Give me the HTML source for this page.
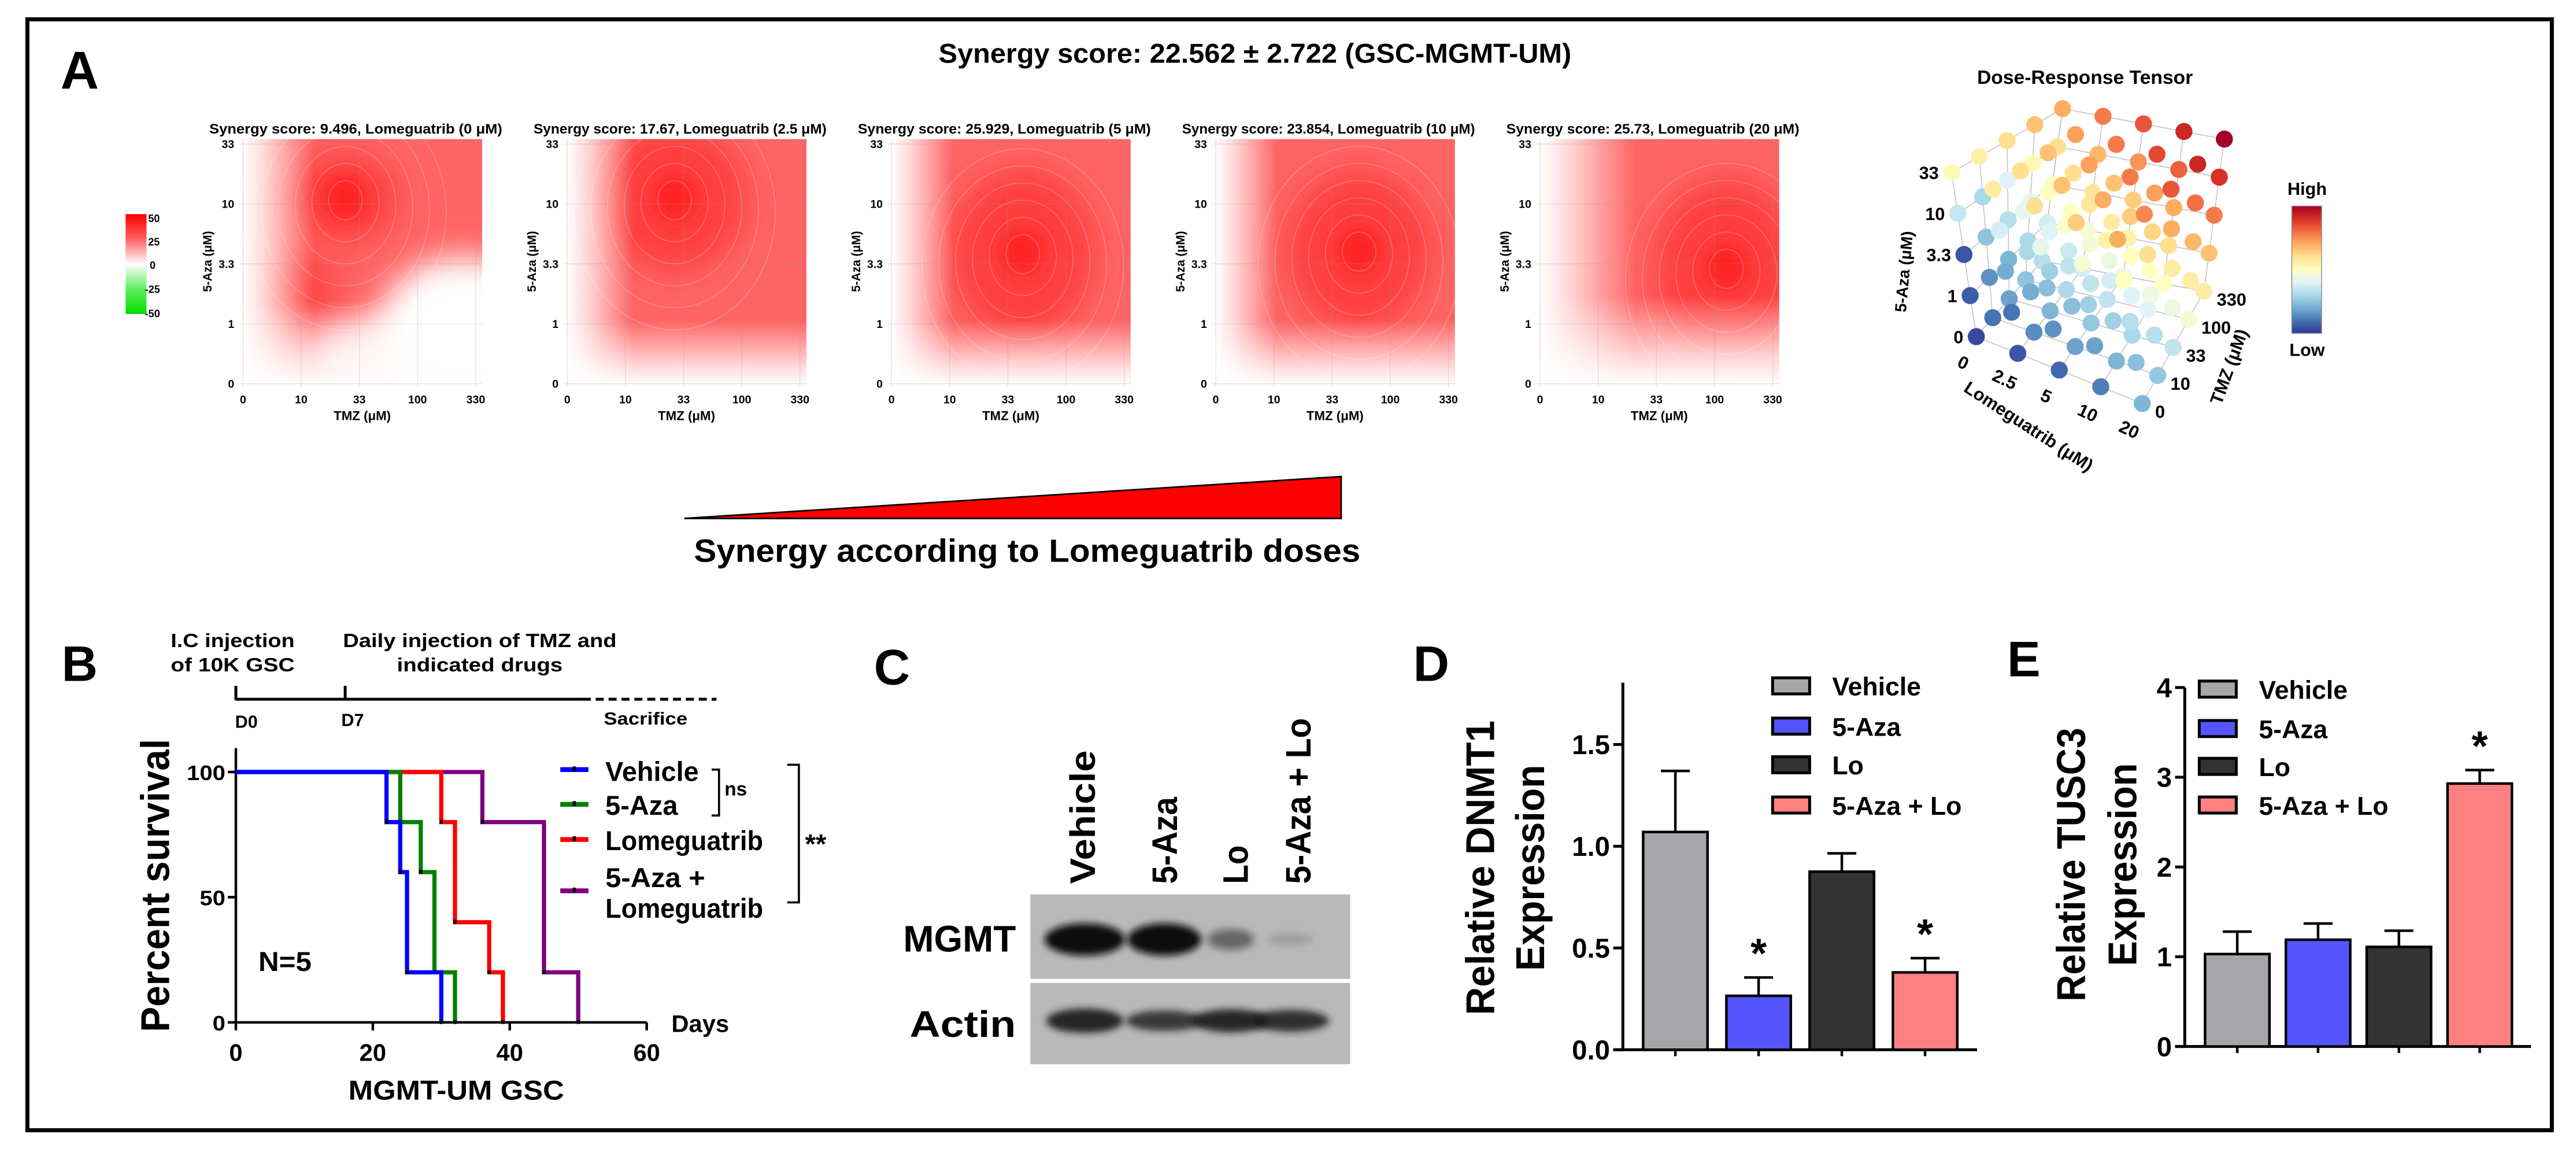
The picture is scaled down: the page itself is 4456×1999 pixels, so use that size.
<!DOCTYPE html>
<html><head><meta charset="utf-8"><style>
html,body{margin:0;padding:0;background:#fff;}
svg{display:block;}
text{font-family:"Liberation Sans",Arial,sans-serif;font-weight:bold;fill:#000;}
</style></head><body>
<svg id="fig" width="4456" height="1999" viewBox="0 0 1600 718" preserveAspectRatio="none" xmlns="http://www.w3.org/2000/svg">
<defs>
<filter id="blur9" x="-50%" y="-50%" width="200%" height="200%"><feGaussianBlur stdDeviation="10"/></filter>
<filter id="blur5" x="-50%" y="-50%" width="200%" height="200%"><feGaussianBlur stdDeviation="5"/></filter>
<filter id="blotblur" x="-50%" y="-50%" width="200%" height="200%"><feGaussianBlur stdDeviation="2.2"/></filter>
<linearGradient id="fadeL" x1="0" x2="1" y1="0" y2="0"><stop offset="0" stop-color="#fff" stop-opacity="1"/><stop offset="0.3" stop-color="#fff" stop-opacity="0.75"/><stop offset="1" stop-color="#fff" stop-opacity="0"/></linearGradient>
<linearGradient id="fadeB" x1="0" x2="0" y1="0" y2="1"><stop offset="0" stop-color="#fff" stop-opacity="0"/><stop offset="0.7" stop-color="#fff" stop-opacity="0.75"/><stop offset="1" stop-color="#fff" stop-opacity="1"/></linearGradient>
<linearGradient id="synbar" x1="0" x2="0" y1="0" y2="1"><stop offset="0" stop-color="#ff0000"/><stop offset="0.25" stop-color="#ff6060"/><stop offset="0.5" stop-color="#ffffff"/><stop offset="0.75" stop-color="#60ee60"/><stop offset="1" stop-color="#00dd00"/></linearGradient>
<linearGradient id="rdylbu" x1="0" x2="0" y1="0" y2="1"><stop offset="0" stop-color="#a50026"/><stop offset="0.1" stop-color="#d73027"/><stop offset="0.2" stop-color="#f46d43"/><stop offset="0.3" stop-color="#fdae61"/><stop offset="0.4" stop-color="#fee090"/><stop offset="0.5" stop-color="#ffffbf"/><stop offset="0.6" stop-color="#e0f3f8"/><stop offset="0.7" stop-color="#abd9e9"/><stop offset="0.8" stop-color="#74add1"/><stop offset="0.9" stop-color="#4575b4"/><stop offset="1" stop-color="#313695"/></linearGradient>
</defs>

<rect x="17" y="12" width="1568" height="690" fill="none" stroke="#000" stroke-width="2.5"/>

<text x="49.5" y="55" font-size="33" text-anchor="middle">A</text>
<text x="583" y="39" font-size="17" textLength="393" lengthAdjust="spacingAndGlyphs">Synergy score: 22.562 ± 2.722 (GSC-MGMT-UM)</text>
<g id="heatmaps"></g>
<g>
<rect x="78" y="133" width="13" height="62" fill="url(#synbar)"/>
<text x="92" y="138" font-size="6.5" font-weight="normal">50</text>
<text x="92" y="152.5" font-size="6.5" font-weight="normal">25</text>
<text x="93" y="167" font-size="6.5" font-weight="normal">0</text>
<text x="90" y="182" font-size="6.5" font-weight="normal">-25</text>
<text x="90" y="197" font-size="6.5" font-weight="normal">-50</text>
</g>
<polygon points="425,322 833,322 833,296" fill="#ff0000" stroke="#000" stroke-width="1"/>
<text x="431" y="349" font-size="20" textLength="414" lengthAdjust="spacingAndGlyphs">Synergy according to Lomeguatrib doses</text>

<g id="tensor"></g>
<text x="1295" y="52" font-size="12" text-anchor="middle" textLength="134" lengthAdjust="spacingAndGlyphs">Dose-Response Tensor</text>
<rect x="1423.5" y="128" width="18.5" height="79" fill="url(#rdylbu)" stroke="#888" stroke-width="0.5"/>
<text x="1433" y="121" font-size="11" text-anchor="middle" font-weight="normal">High</text>
<text x="1433" y="221" font-size="11" text-anchor="middle" font-weight="normal">Low</text>

<text x="49.5" y="423" font-size="31" text-anchor="middle">B</text>
<g>
<text x="106" y="402" font-size="12" textLength="77" lengthAdjust="spacingAndGlyphs">I.C injection</text>
<text x="106" y="417" font-size="12" textLength="77" lengthAdjust="spacingAndGlyphs">of 10K GSC</text>
<text x="298" y="402" font-size="12" text-anchor="middle" textLength="170" lengthAdjust="spacingAndGlyphs">Daily injection of TMZ and</text>
<text x="298" y="417" font-size="12" text-anchor="middle" textLength="103" lengthAdjust="spacingAndGlyphs">indicated drugs</text>
<line x1="146.5" y1="434.3" x2="362" y2="434.3" stroke="#000" stroke-width="1.8"/>
<line x1="362" y1="434.3" x2="445" y2="434.3" stroke="#000" stroke-width="1.8" stroke-dasharray="5,3"/>
<line x1="146.5" y1="426" x2="146.5" y2="435" stroke="#000" stroke-width="1.8"/>
<line x1="214.4" y1="426" x2="214.4" y2="435" stroke="#000" stroke-width="1.8"/>
<text x="146" y="452" font-size="11">D0</text>
<text x="212" y="451" font-size="11">D7</text>
<text x="375" y="450" font-size="11" textLength="52" lengthAdjust="spacingAndGlyphs">Sacrifice</text>
</g>
<g id="survival"></g>
<text transform="translate(105,550) rotate(-90)" font-size="25" text-anchor="middle" textLength="182" lengthAdjust="spacingAndGlyphs">Percent survival</text>
<text x="283.4" y="683" font-size="17" text-anchor="middle" textLength="134" lengthAdjust="spacingAndGlyphs">MGMT-UM GSC</text>
<text x="417" y="641" font-size="15">Days</text>
<text x="177" y="603" font-size="17" text-anchor="middle" textLength="33" lengthAdjust="spacingAndGlyphs">N=5</text>
<g>
<polyline points="442,478 446.6,478 446.6,506.5 442,506.5" fill="none" stroke="#000" stroke-width="1.3"/>
<text x="450" y="494" font-size="12">ns</text>
<polyline points="489,475 496.2,475 496.2,560.5 489,560.5" fill="none" stroke="#000" stroke-width="1.3"/>
<text x="500" y="530" font-size="17">**</text>
</g>

<text x="554" y="425" font-size="31" text-anchor="middle">C</text>
<g id="blot"></g>
<text x="631" y="591" font-size="23" text-anchor="end" textLength="70" lengthAdjust="spacingAndGlyphs">MGMT</text>
<text x="631" y="644" font-size="23" text-anchor="end" textLength="66" lengthAdjust="spacingAndGlyphs">Actin</text>

<text x="889" y="423" font-size="31" text-anchor="middle">D</text>
<text x="1257" y="420" font-size="31" text-anchor="middle">E</text>
<g id="barD"></g>
<g id="barE"></g>
<text transform="translate(928,539) rotate(-90)" font-size="25" text-anchor="middle" textLength="183" lengthAdjust="spacingAndGlyphs">Relative DNMT1</text>
<text transform="translate(959,539) rotate(-90)" font-size="25" text-anchor="middle" textLength="128" lengthAdjust="spacingAndGlyphs">Expression</text>
<text transform="translate(1295,537) rotate(-90)" font-size="25" text-anchor="middle" textLength="170" lengthAdjust="spacingAndGlyphs">Relative TUSC3</text>
<text transform="translate(1327,537) rotate(-90)" font-size="25" text-anchor="middle" textLength="126" lengthAdjust="spacingAndGlyphs">Expression</text>
</svg>
<script>
const NS='http://www.w3.org/2000/svg';
function mk(parent,tag,attrs){const e=document.createElementNS(NS,tag);for(const k in attrs)e.setAttribute(k,attrs[k]);parent.appendChild(e);return e;}
function tx(parent,x,y,s,size,anchor,extra){const e=mk(parent,'text',Object.assign({x:x,y:y,'font-size':size,'text-anchor':anchor||'start'},extra||{}));e.textContent=s;return e;}

/* ---------- Panel A heatmaps ---------- */
const hmLomeDoses=['0','2.5','5','10','20'];
const hmScores=['9.496','17.67','25.929','23.854','25.73'];
const hmTmzTicks=['0','10','33','100','330'];
const hmAzaTicks=['0','1','3.3','10','33'];
const hmPeakX=[0.43,0.45,0.55,0.6,0.78];
const hmPeakY=[0.24,0.24,0.46,0.45,0.52];
const hmPeakRX=[0.22,0.3,0.3,0.3,0.3];
const hmPeakRY=[0.18,0.3,0.34,0.32,0.36];
const hmLeftFade=[0.3,0.28,0.26,0.26,0.4];
const hmBottomFade=[0.34,0.26,0.26,0.26,0.36];
const hmLeft0=150.5, hmPitch=201.4, hmW=149, hmTop=86.4, hmH=152;
const hmG=document.getElementById('heatmaps');
for(let p=0;p<5;p++){
  const L=hmLeft0+p*hmPitch;
  const xs=i=>L+hmW*(0.003+0.2425*i);
  const g=mk(hmG,'g',{});
  
  
  const cp=mk(g,'clipPath',{id:'hmclip'+p});
  mk(cp,'rect',{x:L,y:hmTop,width:hmW,height:hmH});
  const body=mk(g,'g',{'clip-path':'url(#hmclip'+p+')'});
  const base=mk(body,'rect',{x:L,y:hmTop,width:hmW,height:hmH,fill:'#ff6464'});
  
  
  const cx=L+hmW*hmPeakX[p], cy=hmTop+hmH*hmPeakY[p];
  if(p===0){
    const lobe=mk(body,'ellipse',{cx:L+hmW*0.25,cy:hmTop+hmH*0.65,rx:hmW*0.14,ry:hmH*0.2,fill:'#ff4545',filter:'url(#blur9)'});
    
    
    const cold=mk(body,'ellipse',{cx:L+hmW*0.92,cy:hmTop+hmH*0.78,rx:hmW*0.36,ry:hmH*0.3,fill:'#fff',filter:'url(#blur9)'});
    
    
    const cold2=mk(body,'ellipse',{cx:L+hmW*0.55,cy:hmTop+hmH*0.88,rx:hmW*0.25,ry:hmH*0.14,fill:'#fff',opacity:0.8,filter:'url(#blur9)'});
    
    
  }
  const hot=mk(body,'ellipse',{cx:cx,cy:cy,rx:hmW*hmPeakRX[p],ry:hmH*hmPeakRY[p],fill:'#ff3c3c',filter:'url(#blur9)'});
  
  
  const core=mk(body,'ellipse',{cx:cx,cy:cy,rx:hmW*0.09,ry:hmH*0.09,fill:'#ff2020',filter:'url(#blur5)'});
  
  
  for(let c=1;c<=6;c++){
    const ce=mk(body,'ellipse',{cx:cx,cy:cy+c*1.5,rx:hmW*0.07*c,ry:hmH*0.08*c,fill:'none',stroke:'#fff','stroke-opacity':0.22,'stroke-width':0.6});
    
    
  }
  const fl=mk(body,'rect',{x:L,y:hmTop,width:hmW*hmLeftFade[p],height:hmH,fill:'url(#fadeL)'});
  
  
  const fb=mk(body,'rect',{x:L,y:hmTop+hmH*(1-hmBottomFade[p]),width:hmW,height:hmH*hmBottomFade[p]+1,fill:'url(#fadeB)'});
  
  
  for(let i=0;i<5;i++){
    const gx=mk(g,'line',{x1:xs(i),x2:xs(i),y1:hmTop,y2:hmTop+hmH+2,stroke:'#999','stroke-opacity':0.25,'stroke-width':0.5});
    
    
    const yy=hmTop+3+(hmH-3)*(1-i/4);
    const gy=mk(g,'line',{x1:L-2,x2:L+hmW,y1:yy,y2:yy,stroke:'#999','stroke-opacity':0.25,'stroke-width':0.5});
    
    
    const xt=tx(g,xs(i),250.5,hmTmzTicks[i],7,'middle',{'font-weight':'normal'});
    
    
    const yt=tx(g,L-5,yy+2.5,hmAzaTicks[i],7,'end',{'font-weight':'normal'});
    
    
  }
  const tt=tx(g,L+hmW/2-4,83,'Synergy score: '+hmScores[p]+', Lomeguatrib ('+hmLomeDoses[p]+' μM)',8.5,'middle',{textLength:182,lengthAdjust:'spacingAndGlyphs'});
  
  
  const xl=tx(g,L+hmW/2,261,'TMZ (μM)',8,'middle');
  
  
  const yl=tx(g,0,0,'5-Aza (μM)',7.5,'middle',{transform:'translate('+(L-19)+','+(hmTop+hmH*0.5)+') rotate(-90)'});
  
  
}

/* ---------- 3D tensor ---------- */
const tLomeLabels=['0','2.5','5','10','20'];
const tTmzLabels=['0','10','33','100','330'];
const tAzaLabels=['0','1','3.3','10','33'];
const tResp0=[[.03,.10,.18,.25,.32],[.06,.15,.22,.30,.38],[.05,.25,.32,.42,.50],[.35,.30,.40,.52,.60],[.52,.55,.60,.66,.70]];
const tResp1=[[.05,.14,.22,.30,.38],[.10,.20,.28,.36,.46],[.20,.30,.40,.50,.58],[.38,.42,.50,.60,.68],[.56,.60,.66,.72,.78]];
const tResp2=[[.08,.18,.26,.34,.44],[.15,.24,.34,.44,.54],[.24,.34,.46,.56,.64],[.42,.48,.58,.66,.74],[.60,.66,.72,.78,.84]];
const tResp3=[[.12,.22,.30,.40,.50],[.18,.28,.40,.50,.60],[.28,.38,.50,.62,.70],[.46,.54,.64,.72,.82],[.64,.70,.78,.86,.92]];
const tResp4=[[.22,.26,.34,.46,.56],[.24,.32,.44,.56,.66],[.32,.44,.56,.68,.78],[.50,.60,.70,.80,.90],[.70,.76,.84,.92,1.0]];
const tResp=[tResp0,tResp1,tResp2,tResp3,tResp4];
const cmapStops=['#313695','#4575b4','#74add1','#abd9e9','#e0f3f8','#ffffbf','#fee090','#fdae61','#f46d43','#d73027','#a50026'];
function hex(h){return [parseInt(h.substr(1,2),16),parseInt(h.substr(3,2),16),parseInt(h.substr(5,2),16)];}
function cmap(v){v=Math.max(0,Math.min(1,v));const f=v*10,i=Math.min(9,Math.floor(f)),t=f-i;const a=hex(cmapStops[i]),b=hex(cmapStops[i+1]);return 'rgb('+a.map((x,k)=>Math.round(x+(b[k]-x)*t)).join(',')+')';}
const C={'000':[1227.5,209.1],'100':[1330.6,250.6],'001':[1212.2,107.1],'101':[1315.3,148.6],'010':[1268.4,162.0],'110':[1368.9,180.9],'011':[1281.1,67.5],'111':[1381.6,86.4]};
function proj(i,j,k){const u=i/4,v=j/4,w=k/4;let x=0,y=0;
  for(const a of [0,1])for(const b of [0,1])for(const c of [0,1]){const wt=(a?u:1-u)*(b?v:1-v)*(c?w:1-w);const p=C[''+a+b+c];x+=wt*p[0];y+=wt*p[1];}
  return [x,y];}
const TG=document.getElementById('tensor');
function gl(i1,j1,k1,i2,j2,k2){const a=proj(i1,j1,k1),b=proj(i2,j2,k2);const l=mk(TG,'line',{x1:a[0],y1:a[1],x2:b[0],y2:b[1],stroke:'#bbb','stroke-width':0.5});
  
  }
for(let n=0;n<5;n++){
  gl(n,0,0,n,4,0); gl(0,n,0,4,n,0);
  gl(n,4,0,n,4,4); gl(0,4,n,4,4,n);
  gl(0,n,0,0,n,4); gl(0,0,n,0,4,n);
}
const pts=[];
for(let i=0;i<5;i++)for(let j=0;j<5;j++)for(let k=0;k<5;k++)pts.push([i,j,k]);
pts.sort((a,b)=>(b[1]-a[1])||(a[0]-b[0])||(a[2]-b[2]));
for(const [i,j,k] of pts){
  const p=proj(i,j,k);
  const d=mk(TG,'circle',{cx:p[0],cy:p[1],r:5.3,fill:cmap(tResp[i][k][j])});
  
  
}
for(let k=0;k<5;k++){const p=proj(0,0,k);const t=tx(TG,p[0]-8,p[1]+4,tAzaLabels[k],11,'end',{'font-weight':'normal'});
  
  }
for(let i=0;i<5;i++){const p=proj(i,0,0);const t=tx(TG,p[0]-8,p[1]+20,tLomeLabels[i],11,'middle',{'font-weight':'normal',transform:'rotate(25 '+(p[0]-8)+' '+(p[1]+16)+')'});
  
  }
for(let j=0;j<5;j++){const p=proj(4,j,0);const t=tx(TG,p[0]+8,p[1]+9,tTmzLabels[j],11,'start',{'font-weight':'normal'});
  
  }
const tz1=tx(TG,0,0,'5-Aza (μM)',10,'middle',{transform:'translate(1186,169) rotate(-85)'});


const tz2=tx(TG,0,0,'Lomeguatrib (μM)',11,'middle',{'font-weight':'normal',transform:'translate(1258,268) rotate(33)'});


const tz3=tx(TG,0,0,'TMZ (μM)',11,'middle',{'font-weight':'normal',transform:'translate(1388,229) rotate(-70)'});



/* ---------- Panel B survival ---------- */
const svGroups=['Vehicle','5-Aza','Lomeguatrib','5-Aza + Lomeguatrib'];
const svColors=['#0000ff','#008000','#ff0000','#800080'];
const svDays=[[22,24,25,30],[24,27,29,32],[30,32,37,39],[36,45,50]];
const svPct=[[80,60,20,0],[80,60,20,0],[80,40,20,0],[80,20,0]];
const svXTicks=[0,20,40,60];
const svYTicks=[0,50,100];
const SG=document.getElementById('survival');
const sx=d=>146.5+d*4.253, sy=v=>635-v*1.555;
const ax=mk(SG,'path',{d:'M146.5,464.7 V635 H'+sx(60),fill:'none',stroke:'#000','stroke-width':1.6});


for(const t of svXTicks){const l=mk(SG,'line',{x1:sx(t),x2:sx(t),y1:635,y2:640,stroke:'#000','stroke-width':1.6});
  
  
  const s=tx(SG,sx(t),659,String(t),15,'middle');
  
  }
for(const t of svYTicks){const l=mk(SG,'line',{x1:141.5,x2:146.5,y1:sy(t),y2:sy(t),stroke:'#000','stroke-width':1.6});
  
  
  const s=tx(SG,140,sy(t)+5,String(t),13,'end',{textLength:t===100?24:(t===50?16:8),lengthAdjust:'spacingAndGlyphs'});
  
  }
const order=[3,2,1,0];
for(const g of order){
  let d='M'+sx(0)+','+sy(100);
  for(let n=0;n<svDays[g].length;n++){d+=' H'+sx(svDays[g][n])+' V'+sy(svPct[g][n]);}
  const pth=mk(SG,'path',{d:d,fill:'none',stroke:svColors[g],'stroke-width':2.6});
  
  
  for(let n=0;n<svDays[g].length;n++){const m=mk(SG,'rect',{x:sx(svDays[g][n])-1,y:sy(svPct[g][n])-1.5,width:2,height:2.5,fill:'#000'});
    
    }
}
const legY=[478,499.6,521.4,553.3];
for(let g=0;g<4;g++){
  const l=mk(SG,'line',{x1:348,x2:365.5,y1:legY[g],y2:legY[g],stroke:svColors[g],'stroke-width':3});
  
  
  const m=mk(SG,'rect',{x:355.7,y:legY[g]-2,width:2,height:3,fill:'#000'});
  
  
}
const lt=[['Vehicle',485,58],['5-Aza',506,45],['Lomeguatrib',528,98],['5-Aza +',551,62],['Lomeguatrib',570,98]];
for(const [s,y,w] of lt){const t=tx(SG,376,y,s,17,'start',{textLength:w,lengthAdjust:'spacingAndGlyphs'});
  
  }

/* ---------- Panel C western blot ---------- */
const blotLanes=['Vehicle','5-Aza','Lo','5-Aza + Lo'];
const blotMgmt=[1.0,1.0,0.5,0.14];
const blotActin=[0.95,0.8,0.9,0.85];
const laneX=[673.8,723.2,764.5,801.5];
const laneW=[50,46,29,29];
const BG=document.getElementById('blot');
const bg1=mk(BG,'rect',{x:640,y:555.5,width:198.6,height:52.5,fill:'#b9b9b9'});


const bg2=mk(BG,'rect',{x:640,y:610.5,width:198.6,height:50.5,fill:'#b9b9b9'});


for(let i=0;i<4;i++){
  const m=mk(BG,'ellipse',{cx:laneX[i],cy:583.5,rx:laneW[i]/2,ry:3+7*blotMgmt[i],fill:'#111','fill-opacity':blotMgmt[i],filter:'url(#blotblur)'});
  
  
  const a=mk(BG,'ellipse',{cx:laneX[i],cy:634,rx:24,ry:8*blotActin[i],fill:'#1a1a1a','fill-opacity':blotActin[i],filter:'url(#blotblur)'});
  
  
}
const laneLabelX=[672,723,767,806];
const laneLen=[83,54,24,103];
for(let i=0;i<4;i++){const t=tx(BG,0,0,blotLanes[i],22,'start',{transform:'translate('+(laneLabelX[i]+8)+',549) rotate(-90)',textLength:laneLen[i],lengthAdjust:'spacingAndGlyphs'});
  
  }

/* ---------- Panels D / E bar charts ---------- */
const barCats=['Vehicle','5-Aza','Lo','5-Aza + Lo'];
const barColors=['#a6a6aa','#5555ff','#333333','#ff8080'];
const dMeans=[1.07,0.265,0.875,0.38];
const dErrs=[0.30,0.09,0.09,0.07];
const dSig=[false,true,false,true];
const dTicks=['0.0','0.5','1.0','1.5'];
const dTickVals=[0,0.5,1.0,1.5];
const eMeans=[1.03,1.19,1.11,2.93];
const eErrs=[0.25,0.18,0.18,0.15];
const eSig=[false,false,false,true];
const eTicks=['0','1','2','3','4'];
const eTickVals=[0,1,2,3,4];
function barChart(gid,cfg){
  const G=document.getElementById(gid);
  const y=v=>cfg.y0-v*cfg.k;
  const axis=mk(G,'path',{d:'M'+cfg.ax+','+cfg.top+' V'+cfg.y0+' M'+(cfg.ax-6)+','+cfg.y0+' H'+cfg.axEnd,fill:'none',stroke:'#000','stroke-width':1.8});
  
  
  for(let t=0;t<cfg.ticks.length;t++){
    const yy=y(cfg.tickVals[t]);
    const l=mk(G,'line',{x1:cfg.ax-6,x2:cfg.ax,y1:yy,y2:yy,stroke:'#000','stroke-width':1.8});
    
    
    const s=tx(G,cfg.ax-8,yy+6,cfg.ticks[t],17,'end');
    
    
  }
  for(let i=0;i<4;i++){
    const cx=cfg.x0+i*cfg.pitch;
    const tp=y(cfg.means[i]), ey=y(cfg.means[i]+cfg.errs[i]);
    const eb=mk(G,'path',{d:'M'+cx+','+tp+' V'+ey+' M'+(cx-9)+','+ey+' H'+(cx+9),fill:'none',stroke:'#000','stroke-width':1.6});
    
    
    const r=mk(G,'rect',{x:cx-20,y:tp,width:40,height:cfg.y0-tp,fill:barColors[i],stroke:'#000','stroke-width':1.6});
    
    
    const tk=mk(G,'line',{x1:cx,x2:cx,y1:cfg.y0,y2:cfg.y0+4,stroke:'#000','stroke-width':1.6});
    
    
    if(cfg.sig[i]){const st=tx(G,cx,ey-6,'*',26,'middle');
      
      }
  }
  for(let i=0;i<4;i++){
    const sw=mk(G,'rect',{x:cfg.lx,y:cfg.ly[i]-5,width:23,height:10,fill:barColors[i],stroke:'#000','stroke-width':1.8});
    
    
    const t=tx(G,cfg.lx+37,cfg.ly[i]+6,barCats[i],16);
    
    
  }
}
barChart('barD',{ax:1008,top:424,y0:652,k:126.4,axEnd:1228,x0:1040.6,pitch:51.7,means:dMeans,errs:dErrs,sig:dSig,ticks:dTicks,tickVals:dTickVals,lx:1101,ly:[426,451,475,500]});
barChart('barE',{ax:1357,top:427,y0:650,k:55.75,axEnd:1572,x0:1389.6,pitch:50.2,means:eMeans,errs:eErrs,sig:eSig,ticks:eTicks,tickVals:eTickVals,lx:1366,ly:[428,452.5,476,500]});
</script>
</body></html>
